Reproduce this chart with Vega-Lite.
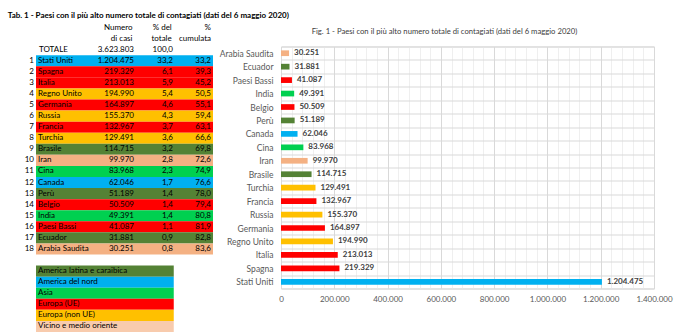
{
  "$schema": "https://vega.github.io/schema/vega-lite/v6.json",
  "padding": {"left": 7, "top": 12, "right": 2, "bottom": 2},
  "background": "white",
  "title": {
    "text": "Tab. 1 -  Paesi con il più alto numero totale di contagiati (dati del 6 maggio 2020)",
    "anchor": "start", "fontSize": 8, "fontWeight": "bold", "color": "#000000", "dx": -17, "offset": 2
  },
  "datasets": {
    "countries": [
      {"rank": 1, "paese": "Stati Uniti", "casi": 1204475, "pct": 33.2, "cum": 33.2, "area": "America del nord"},
      {"rank": 2, "paese": "Spagna", "casi": 219329, "pct": 6.1, "cum": 39.3, "area": "Europa (UE)"},
      {"rank": 3, "paese": "Italia", "casi": 213013, "pct": 5.9, "cum": 45.2, "area": "Europa (UE)"},
      {"rank": 4, "paese": "Regno Unito", "casi": 194990, "pct": 5.4, "cum": 50.5, "area": "Europa (non UE)"},
      {"rank": 5, "paese": "Germania", "casi": 164897, "pct": 4.6, "cum": 55.1, "area": "Europa (UE)"},
      {"rank": 6, "paese": "Russia", "casi": 155370, "pct": 4.3, "cum": 59.4, "area": "Europa (non UE)"},
      {"rank": 7, "paese": "Francia", "casi": 132967, "pct": 3.7, "cum": 63.1, "area": "Europa (UE)"},
      {"rank": 8, "paese": "Turchia", "casi": 129491, "pct": 3.6, "cum": 66.6, "area": "Europa (non UE)"},
      {"rank": 9, "paese": "Brasile", "casi": 114715, "pct": 3.2, "cum": 69.8, "area": "America latina e caraibica"},
      {"rank": 10, "paese": "Iran", "casi": 99970, "pct": 2.8, "cum": 72.6, "area": "Vicino e medio oriente"},
      {"rank": 11, "paese": "Cina", "casi": 83968, "pct": 2.3, "cum": 74.9, "area": "Asia"},
      {"rank": 12, "paese": "Canada", "casi": 62046, "pct": 1.7, "cum": 76.6, "area": "America del nord"},
      {"rank": 13, "paese": "Perù", "casi": 51189, "pct": 1.4, "cum": 78.0, "area": "America latina e caraibica"},
      {"rank": 14, "paese": "Belgio", "casi": 50509, "pct": 1.4, "cum": 79.4, "area": "Europa (UE)"},
      {"rank": 15, "paese": "India", "casi": 49391, "pct": 1.4, "cum": 80.8, "area": "Asia"},
      {"rank": 16, "paese": "Paesi Bassi", "casi": 41087, "pct": 1.1, "cum": 81.9, "area": "Europa (UE)"},
      {"rank": 17, "paese": "Ecuador", "casi": 31881, "pct": 0.9, "cum": 82.8, "area": "America latina e caraibica"},
      {"rank": 18, "paese": "Arabia Saudita", "casi": 30251, "pct": 0.8, "cum": 83.6, "area": "Vicino e medio oriente"}
    ],
    "legend": [
      {"area": "America latina e caraibica"},
      {"area": "America del nord"},
      {"area": "Asia"},
      {"area": "Europa (UE)"},
      {"area": "Europa (non UE)"},
      {"area": "Vicino e medio oriente"}
    ],
    "headers": [
      {"row": "h1", "col": "Numero di casi", "label": "Numero"},
      {"row": "h2", "col": "Numero di casi", "label": "di casi"},
      {"row": "h1", "col": "% del totale", "label": "% del"},
      {"row": "h2", "col": "% del totale", "label": "totale"},
      {"row": "h1", "col": "% cumulata", "label": "%"},
      {"row": "h2", "col": "% cumulata", "label": "cumulata"}
    ],
    "totale": [
      {"row": "TOTALE", "label": "TOTALE", "casi": 3623803, "pct": 100.0}
    ],
    "figtitle": [
      {"title": "Fig. 1 - Paesi con il più alto numero totale di contagiati (dati del 6 maggio 2020)"}
    ]
  },
  "spacing": 0,
  "hconcat": [
    {
      "width": 177,
      "height": 310,
      "view": {"stroke": null},
      "layer": [
        {
          "data": {"name": "countries"},
          "mark": {"type": "rect"},
          "encoding": {
            "y": {"field": "rank", "type": "nominal", "axis": null, "scale": {"type": "band", "paddingInner": 0, "paddingOuter": 0, "domain": ["h1","h2","TOTALE",1,2,3,4,5,6,7,8,9,10,11,12,13,14,15,16,17,18,"","America latina e caraibica","America del nord","Asia","Europa (UE)","Europa (non UE)","Vicino e medio oriente"]}},
            "color": {"field": "area", "type": "nominal", "legend": null, "scale": {"domain": ["America latina e caraibica","America del nord","Asia","Europa (UE)","Europa (non UE)","Vicino e medio oriente"], "range": ["#548235","#00B0F0","#00D050","#FF0000","#FFC000","#F4B183"]}}
          }
        },
        {
          "data": {"name": "legend"},
          "mark": {"type": "rect", "x2Offset": 5},
          "encoding": {
            "y": {"field": "area", "type": "nominal", "axis": null, "scale": {"type": "band", "paddingInner": 0, "paddingOuter": 0, "domain": ["h1","h2","TOTALE",1,2,3,4,5,6,7,8,9,10,11,12,13,14,15,16,17,18,"","America latina e caraibica","America del nord","Asia","Europa (UE)","Europa (non UE)","Vicino e medio oriente"]}},
            "x": {"datum": "Paese", "type": "nominal", "bandPosition": 0, "axis": null, "scale": {"type": "band", "paddingInner": 0, "paddingOuter": 0, "domain": ["Paese","Numero di casi","% del totale","% cumulata"]}},
            "x2": {"datum": "% del totale", "bandPosition": 1},
            "fill": {"field": "area", "type": "nominal", "legend": null, "scale": {"domain": ["America latina e caraibica","America del nord","Asia","Europa (UE)","Europa (non UE)","Vicino e medio oriente"], "range": ["#548235","#00B0F0","#00D050","#FF0000","#FFC000","#F8CBAD"]}}
          }
        },
        {
          "data": {"name": "legend"},
          "mark": {"type": "text", "align": "left", "dx": 2, "fontSize": 8, "color": "#000000"},
          "encoding": {
            "y": {"field": "area", "type": "nominal", "axis": null, "scale": {"type": "band", "paddingInner": 0, "paddingOuter": 0, "domain": ["h1","h2","TOTALE",1,2,3,4,5,6,7,8,9,10,11,12,13,14,15,16,17,18,"","America latina e caraibica","America del nord","Asia","Europa (UE)","Europa (non UE)","Vicino e medio oriente"]}},
            "x": {"datum": "Paese", "type": "nominal", "bandPosition": 0, "axis": null, "scale": {"type": "band", "paddingInner": 0, "paddingOuter": 0, "domain": ["Paese","Numero di casi","% del totale","% cumulata"]}},
            "text": {"field": "area"}
          }
        },
        {
          "data": {"name": "countries"},
          "mark": {"type": "text", "align": "right", "dx": -2, "fontSize": 8, "color": "#000000"},
          "encoding": {
            "y": {"field": "rank", "type": "nominal", "axis": null, "scale": {"type": "band", "paddingInner": 0, "paddingOuter": 0, "domain": ["h1","h2","TOTALE",1,2,3,4,5,6,7,8,9,10,11,12,13,14,15,16,17,18,"","America latina e caraibica","America del nord","Asia","Europa (UE)","Europa (non UE)","Vicino e medio oriente"]}},
            "x": {"datum": "Paese", "type": "nominal", "bandPosition": 0, "axis": null, "scale": {"type": "band", "paddingInner": 0, "paddingOuter": 0, "domain": ["Paese","Numero di casi","% del totale","% cumulata"]}},
            "text": {"field": "rank"}
          }
        },
        {
          "data": {"name": "countries"},
          "mark": {"type": "text", "align": "left", "dx": 2, "fontSize": 8, "color": "#000000"},
          "encoding": {
            "y": {"field": "rank", "type": "nominal", "axis": null, "scale": {"type": "band", "paddingInner": 0, "paddingOuter": 0, "domain": ["h1","h2","TOTALE",1,2,3,4,5,6,7,8,9,10,11,12,13,14,15,16,17,18,"","America latina e caraibica","America del nord","Asia","Europa (UE)","Europa (non UE)","Vicino e medio oriente"]}},
            "x": {"datum": "Paese", "type": "nominal", "bandPosition": 0, "axis": null, "scale": {"type": "band", "paddingInner": 0, "paddingOuter": 0, "domain": ["Paese","Numero di casi","% del totale","% cumulata"]}},
            "text": {"field": "paese"}
          }
        },
        {
          "data": {"name": "countries"},
          "mark": {"type": "text", "align": "right", "dx": 9.5, "fontSize": 8, "color": "#000000"},
          "encoding": {
            "y": {"field": "rank", "type": "nominal", "axis": null, "scale": {"type": "band", "paddingInner": 0, "paddingOuter": 0, "domain": ["h1","h2","TOTALE",1,2,3,4,5,6,7,8,9,10,11,12,13,14,15,16,17,18,"","America latina e caraibica","America del nord","Asia","Europa (UE)","Europa (non UE)","Vicino e medio oriente"]}},
            "x": {"datum": "Numero di casi", "type": "nominal", "bandPosition": 1, "axis": null, "scale": {"type": "band", "paddingInner": 0, "paddingOuter": 0, "domain": ["Paese","Numero di casi","% del totale","% cumulata"]}},
            "text": {"field": "casi", "type": "quantitative", "format": ",d"}
          }
        },
        {
          "data": {"name": "countries"},
          "mark": {"type": "text", "align": "right", "dx": 4.25, "fontSize": 8, "color": "#000000"},
          "encoding": {
            "y": {"field": "rank", "type": "nominal", "axis": null, "scale": {"type": "band", "paddingInner": 0, "paddingOuter": 0, "domain": ["h1","h2","TOTALE",1,2,3,4,5,6,7,8,9,10,11,12,13,14,15,16,17,18,"","America latina e caraibica","America del nord","Asia","Europa (UE)","Europa (non UE)","Vicino e medio oriente"]}},
            "x": {"datum": "% del totale", "type": "nominal", "bandPosition": 1, "axis": null, "scale": {"type": "band", "paddingInner": 0, "paddingOuter": 0, "domain": ["Paese","Numero di casi","% del totale","% cumulata"]}},
            "text": {"field": "pct", "type": "quantitative", "format": ".1f"}
          }
        },
        {
          "data": {"name": "countries"},
          "mark": {"type": "text", "align": "right", "dx": -2, "fontSize": 8, "color": "#000000"},
          "encoding": {
            "y": {"field": "rank", "type": "nominal", "axis": null, "scale": {"type": "band", "paddingInner": 0, "paddingOuter": 0, "domain": ["h1","h2","TOTALE",1,2,3,4,5,6,7,8,9,10,11,12,13,14,15,16,17,18,"","America latina e caraibica","America del nord","Asia","Europa (UE)","Europa (non UE)","Vicino e medio oriente"]}},
            "x": {"datum": "% cumulata", "type": "nominal", "bandPosition": 1, "axis": null, "scale": {"type": "band", "paddingInner": 0, "paddingOuter": 0, "domain": ["Paese","Numero di casi","% del totale","% cumulata"]}},
            "text": {"field": "cum", "type": "quantitative", "format": ".1f"}
          }
        },
        {
          "data": {"name": "totale"},
          "mark": {"type": "text", "align": "left", "dx": 3, "fontSize": 8, "color": "#000000"},
          "encoding": {
            "y": {"field": "row", "type": "nominal", "axis": null, "scale": {"type": "band", "paddingInner": 0, "paddingOuter": 0, "domain": ["h1","h2","TOTALE",1,2,3,4,5,6,7,8,9,10,11,12,13,14,15,16,17,18,"","America latina e caraibica","America del nord","Asia","Europa (UE)","Europa (non UE)","Vicino e medio oriente"]}},
            "x": {"datum": "Paese", "type": "nominal", "bandPosition": 0, "axis": null, "scale": {"type": "band", "paddingInner": 0, "paddingOuter": 0, "domain": ["Paese","Numero di casi","% del totale","% cumulata"]}},
            "text": {"field": "label"}
          }
        },
        {
          "data": {"name": "totale"},
          "mark": {"type": "text", "align": "right", "dx": 9.5, "fontSize": 8, "color": "#000000"},
          "encoding": {
            "y": {"field": "row", "type": "nominal", "axis": null, "scale": {"type": "band", "paddingInner": 0, "paddingOuter": 0, "domain": ["h1","h2","TOTALE",1,2,3,4,5,6,7,8,9,10,11,12,13,14,15,16,17,18,"","America latina e caraibica","America del nord","Asia","Europa (UE)","Europa (non UE)","Vicino e medio oriente"]}},
            "x": {"datum": "Numero di casi", "type": "nominal", "bandPosition": 1, "axis": null, "scale": {"type": "band", "paddingInner": 0, "paddingOuter": 0, "domain": ["Paese","Numero di casi","% del totale","% cumulata"]}},
            "text": {"field": "casi", "type": "quantitative", "format": ",d"}
          }
        },
        {
          "data": {"name": "totale"},
          "mark": {"type": "text", "align": "right", "dx": 4.25, "fontSize": 8, "color": "#000000"},
          "encoding": {
            "y": {"field": "row", "type": "nominal", "axis": null, "scale": {"type": "band", "paddingInner": 0, "paddingOuter": 0, "domain": ["h1","h2","TOTALE",1,2,3,4,5,6,7,8,9,10,11,12,13,14,15,16,17,18,"","America latina e caraibica","America del nord","Asia","Europa (UE)","Europa (non UE)","Vicino e medio oriente"]}},
            "x": {"datum": "% del totale", "type": "nominal", "bandPosition": 1, "axis": null, "scale": {"type": "band", "paddingInner": 0, "paddingOuter": 0, "domain": ["Paese","Numero di casi","% del totale","% cumulata"]}},
            "text": {"field": "pct", "type": "quantitative", "format": ".1f"}
          }
        },
        {
          "data": {"name": "headers"},
          "transform": [{"filter": "datum.col === 'Numero di casi'"}],
          "mark": {"type": "text", "align": "right", "dx": 8, "fontSize": 8, "color": "#000000"},
          "encoding": {
            "y": {"field": "row", "type": "nominal", "axis": null, "scale": {"type": "band", "paddingInner": 0, "paddingOuter": 0, "domain": ["h1","h2","TOTALE",1,2,3,4,5,6,7,8,9,10,11,12,13,14,15,16,17,18,"","America latina e caraibica","America del nord","Asia","Europa (UE)","Europa (non UE)","Vicino e medio oriente"]}},
            "x": {"field": "col", "type": "nominal", "bandPosition": 1, "axis": null, "scale": {"type": "band", "paddingInner": 0, "paddingOuter": 0, "domain": ["Paese","Numero di casi","% del totale","% cumulata"]}},
            "text": {"field": "label"}
          }
        },
        {
          "data": {"name": "headers"},
          "transform": [{"filter": "datum.col === '% del totale'"}],
          "mark": {"type": "text", "align": "right", "dx": 3, "fontSize": 8, "color": "#000000"},
          "encoding": {
            "y": {"field": "row", "type": "nominal", "axis": null, "scale": {"type": "band", "paddingInner": 0, "paddingOuter": 0, "domain": ["h1","h2","TOTALE",1,2,3,4,5,6,7,8,9,10,11,12,13,14,15,16,17,18,"","America latina e caraibica","America del nord","Asia","Europa (UE)","Europa (non UE)","Vicino e medio oriente"]}},
            "x": {"field": "col", "type": "nominal", "bandPosition": 1, "axis": null, "scale": {"type": "band", "paddingInner": 0, "paddingOuter": 0, "domain": ["Paese","Numero di casi","% del totale","% cumulata"]}},
            "text": {"field": "label"}
          }
        },
        {
          "data": {"name": "headers"},
          "transform": [{"filter": "datum.col === '% cumulata'"}],
          "mark": {"type": "text", "align": "right", "dx": -2, "fontSize": 8, "color": "#000000"},
          "encoding": {
            "y": {"field": "row", "type": "nominal", "axis": null, "scale": {"type": "band", "paddingInner": 0, "paddingOuter": 0, "domain": ["h1","h2","TOTALE",1,2,3,4,5,6,7,8,9,10,11,12,13,14,15,16,17,18,"","America latina e caraibica","America del nord","Asia","Europa (UE)","Europa (non UE)","Vicino e medio oriente"]}},
            "x": {"field": "col", "type": "nominal", "bandPosition": 1, "axis": null, "scale": {"type": "band", "paddingInner": 0, "paddingOuter": 0, "domain": ["Paese","Numero di casi","% del totale","% cumulata"]}},
            "text": {"field": "label"}
          }
        }
      ]
    },
    {
      "spacing": 0.5,
      "vconcat": [
        {
          "width": 373,
          "height": 19,
          "view": {"stroke": null},
          "data": {"name": "figtitle"},
          "mark": {"type": "text", "fontSize": 7.7, "color": "#404040", "dx": -23},
          "encoding": {"text": {"field": "title"}}
        },
        {
          "width": 373,
          "height": 242,
          "view": {"stroke": "#d9d9d9"},
          "data": {"name": "countries"},
          "encoding": {
            "y": {
              "field": "paese", "type": "nominal",
              "sort": {"field": "casi", "order": "ascending"},
              "scale": {"paddingInner": 0, "paddingOuter": 0},
              "axis": {"title": null, "domain": false, "ticks": false, "labelPadding": 8, "labelFontSize": 8.5, "labelColor": "#595959", "grid": true, "tickBand": "extent", "gridColor": "#d9d9d9", "minExtent": 67}
            }
          },
          "resolve": {"axis": {"x": "independent"}},
          "layer": [
            {
              "mark": {"type": "bar", "size": 5.7},
              "encoding": {
                "x": {
                  "field": "casi", "type": "quantitative",
                  "scale": {"domain": [0, 1400000], "nice": false},
                  "axis": {
                    "title": null, "domain": false, "ticks": false, "orient": "bottom",
                    "values": [0, 200000, 400000, 600000, 800000, 1000000, 1200000, 1400000],
                    "format": ",d", "labelOverlap": false, "labelFlush": false,
                    "labelColor": "#595959", "labelFontSize": 8, "labelPadding": 7,
                    "grid": true, "gridColor": "#d9d9d9"
                  }
                },
                "color": {"field": "area", "type": "nominal", "legend": null, "scale": {"domain": ["America latina e caraibica","America del nord","Asia","Europa (UE)","Europa (non UE)","Vicino e medio oriente"], "range": ["#548235","#00B0F0","#00D050","#FF0000","#FFC000","#F4B183"]}}
              }
            },
            {
              "mark": {"type": "text", "align": "left", "dx": 5, "fontSize": 8, "fontWeight": "bold", "color": "#404040"},
              "encoding": {
                "x": {
                  "field": "casi", "type": "quantitative",
                  "axis": {
                    "title": null, "orient": "top", "domain": false, "ticks": false, "labels": false,
                    "values": [40000,80000,120000,160000,240000,280000,320000,360000,440000,480000,520000,560000,640000,680000,720000,760000,840000,880000,920000,960000,1040000,1080000,1120000,1160000,1240000,1280000,1320000,1360000],
                    "grid": true, "gridColor": "#efefef"
                  }
                },
                "text": {"field": "casi", "type": "quantitative", "format": ",d"}
              }
            }
          ]
        }
      ]
    }
  ],
  "config": {
    "font": "Lato",
    "locale": {"number": {"decimal": ",", "thousands": ".", "grouping": [3], "currency": ["", " €"]}}
  }
}
